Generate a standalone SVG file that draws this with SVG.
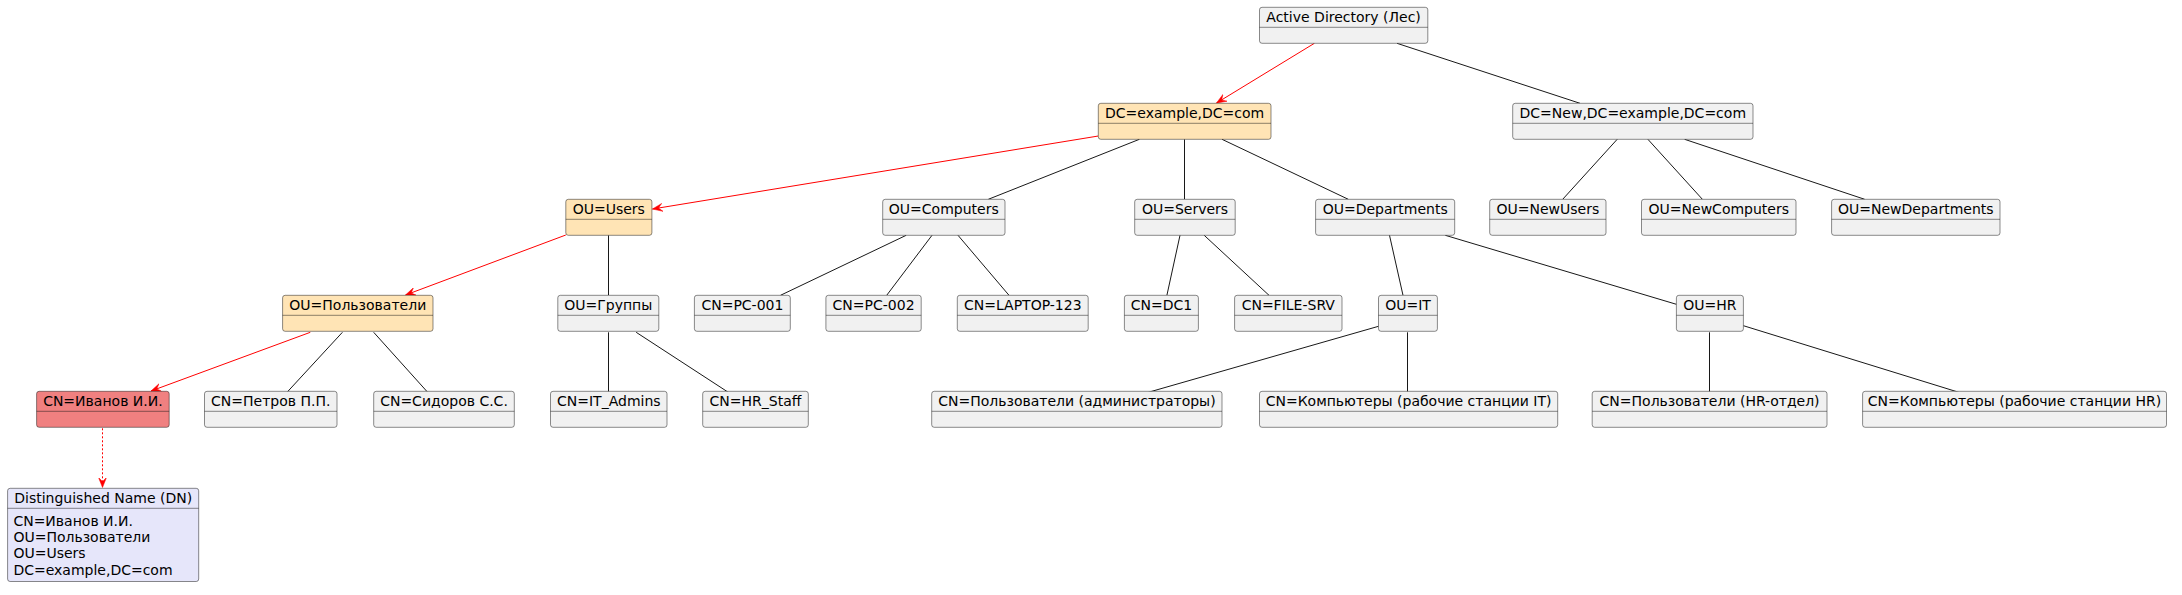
<svg xmlns="http://www.w3.org/2000/svg" width="2182" height="595" viewBox="0 0 2182 595">
<defs>
<style>
.n rect.b{fill:#F1F1F1;stroke:#181818;stroke-width:0.5}
.n line{stroke:#181818;stroke-width:0.5}
.hl rect.b{fill:#FFE4B5}
.red rect.b{fill:#F08080}
.dn rect.b{fill:#E6E6FA}
text{font-family:"DejaVu Sans",sans-serif;font-size:14px;fill:#000}
.c{text-anchor:middle}
.e{stroke:#181818;stroke-width:1;fill:none}
.r{stroke:#FF0000;stroke-width:1;fill:none}
.d{stroke:#FF0000;stroke-width:1;fill:none;stroke-dasharray:2,2}
</style>
<marker id="ah" viewBox="-10 -5 11 10" refX="0" refY="0" markerWidth="11" markerHeight="10" markerUnits="userSpaceOnUse" orient="auto">
<path d="M0,0 L-10,-4 L-6,0 L-10,4 Z" fill="#FF0000" stroke="#FF0000" stroke-width="0.5"/>
</marker>
</defs>
<rect width="2182" height="595" fill="#FFFFFF"/>

<g id="connectors">
<line class="r" x1="1314.4" y1="43.3" x2="1216.5" y2="103" marker-end="url(#ah)"/>
<line class="e" x1="1397" y1="43.3" x2="1580" y2="103.3"/>
<line class="r" x1="1098.3" y1="136" x2="652.5" y2="209" marker-end="url(#ah)"/>
<line class="e" x1="1139.4" y1="139.3" x2="988.3" y2="199.3"/>
<line class="e" x1="1184.5" y1="139.3" x2="1184.5" y2="199.3"/>
<line class="e" x1="1222" y1="139.3" x2="1348.3" y2="199.3"/>
<line class="e" x1="1617.2" y1="139.3" x2="1562.7" y2="199.3"/>
<line class="e" x1="1647.9" y1="139.3" x2="1702.4" y2="199.3"/>
<line class="e" x1="1684.6" y1="139.3" x2="1864.7" y2="199.3"/>
<line class="r" x1="565.8" y1="235" x2="405.5" y2="295" marker-end="url(#ah)"/>
<line class="e" x1="608.5" y1="235.3" x2="608.5" y2="295.3"/>
<line class="e" x1="906.2" y1="235.3" x2="780.5" y2="295.3"/>
<line class="e" x1="932" y1="235.3" x2="886.7" y2="295.3"/>
<line class="e" x1="958" y1="235.3" x2="1009" y2="295.3"/>
<line class="e" x1="1180" y1="235.3" x2="1166.9" y2="295.3"/>
<line class="e" x1="1204.2" y1="235.3" x2="1269" y2="295.3"/>
<line class="e" x1="1389.5" y1="235.3" x2="1403" y2="295.3"/>
<line class="e" x1="1445.3" y1="235.3" x2="1676.4" y2="304.3"/>
<line class="r" x1="310.3" y1="332.3" x2="151" y2="391" marker-end="url(#ah)"/>
<line class="e" x1="342.4" y1="332.3" x2="287" y2="392.3"/>
<line class="e" x1="373.7" y1="332.3" x2="427.7" y2="392.3"/>
<line class="e" x1="608.5" y1="332.3" x2="608.5" y2="392.3"/>
<line class="e" x1="636.2" y1="332.3" x2="728.3" y2="392.3"/>
<line class="e" x1="1378.5" y1="326.3" x2="1148.3" y2="392.3"/>
<line class="e" x1="1407.5" y1="332.3" x2="1407.5" y2="392.3"/>
<line class="e" x1="1709.5" y1="332.3" x2="1709.5" y2="392.3"/>
<line class="e" x1="1743.4" y1="325.7" x2="1958.8" y2="392.3"/>
<line class="d" x1="102.5" y1="428.3" x2="102.5" y2="487.5" marker-end="url(#ah)"/>
</g>

<g id="ad" class="n"><rect class="b" x="1259.5" y="7.3" width="168.3" height="36" rx="2.5"/><line x1="1259.5" y1="27.3" x2="1427.8" y2="27.3"/><text class="c" x="1343.6" y="22.2">Active Directory (Лес)</text></g>

<g id="dc" class="n hl"><rect class="b" x="1098.3" y="103.3" width="172.7" height="36" rx="2.5"/><line x1="1098.3" y1="123.3" x2="1271" y2="123.3"/><text class="c" x="1184.6" y="118.2">DC=example,DC=com</text></g>
<g id="dcnew" class="n"><rect class="b" x="1512.7" y="103.3" width="240.3" height="36" rx="2.5"/><line x1="1512.7" y1="123.3" x2="1753" y2="123.3"/><text class="c" x="1632.8" y="118.2">DC=New,DC=example,DC=com</text></g>

<g id="users" class="n hl"><rect class="b" x="565.8" y="199.3" width="86.1" height="36" rx="2.5"/><line x1="565.8" y1="219.3" x2="651.9" y2="219.3"/><text class="c" x="608.8" y="214.2">OU=Users</text></g>
<g id="computers" class="n"><rect class="b" x="882.7" y="199.3" width="122.3" height="36" rx="2.5"/><line x1="882.7" y1="219.3" x2="1005" y2="219.3"/><text class="c" x="943.8" y="214.2">OU=Computers</text></g>
<g id="servers" class="n"><rect class="b" x="1134.7" y="199.3" width="100.5" height="36" rx="2.5"/><line x1="1134.7" y1="219.3" x2="1235.2" y2="219.3"/><text class="c" x="1185" y="214.2">OU=Servers</text></g>
<g id="departments" class="n"><rect class="b" x="1315.6" y="199.3" width="139.1" height="36" rx="2.5"/><line x1="1315.6" y1="219.3" x2="1454.7" y2="219.3"/><text class="c" x="1385.2" y="214.2">OU=Departments</text></g>
<g id="newusers" class="n"><rect class="b" x="1489.7" y="199.3" width="116.3" height="36" rx="2.5"/><line x1="1489.7" y1="219.3" x2="1606" y2="219.3"/><text class="c" x="1547.9" y="214.2">OU=NewUsers</text></g>
<g id="newcomputers" class="n"><rect class="b" x="1641.5" y="199.3" width="154.5" height="36" rx="2.5"/><line x1="1641.5" y1="219.3" x2="1796" y2="219.3"/><text class="c" x="1718.8" y="214.2">OU=NewComputers</text></g>
<g id="newdepartments" class="n"><rect class="b" x="1831.6" y="199.3" width="168.4" height="36" rx="2.5"/><line x1="1831.6" y1="219.3" x2="2000" y2="219.3"/><text class="c" x="1915.8" y="214.2">OU=NewDepartments</text></g>

<g id="polz" class="n hl"><rect class="b" x="282.6" y="295.3" width="150.4" height="36" rx="2.5"/><line x1="282.6" y1="315.3" x2="433" y2="315.3"/><text class="c" x="357.8" y="310.2">OU=Пользователи</text></g>
<g id="gruppy" class="n"><rect class="b" x="557.8" y="295.3" width="101" height="36" rx="2.5"/><line x1="557.8" y1="315.3" x2="658.8" y2="315.3"/><text class="c" x="608.3" y="310.2">OU=Группы</text></g>
<g id="pc001" class="n"><rect class="b" x="694.4" y="295.3" width="95.9" height="36" rx="2.5"/><line x1="694.4" y1="315.3" x2="790.3" y2="315.3"/><text class="c" x="742.4" y="310.2">CN=PC-001</text></g>
<g id="pc002" class="n"><rect class="b" x="825.9" y="295.3" width="95.3" height="36" rx="2.5"/><line x1="825.9" y1="315.3" x2="921.2" y2="315.3"/><text class="c" x="873.6" y="310.2">CN=PC-002</text></g>
<g id="laptop" class="n"><rect class="b" x="957.3" y="295.3" width="130.9" height="36" rx="2.5"/><line x1="957.3" y1="315.3" x2="1088.2" y2="315.3"/><text class="c" x="1022.8" y="310.2">CN=LAPTOP-123</text></g>
<g id="dc1" class="n"><rect class="b" x="1124.4" y="295.3" width="74" height="36" rx="2.5"/><line x1="1124.4" y1="315.3" x2="1198.4" y2="315.3"/><text class="c" x="1161.4" y="310.2">CN=DC1</text></g>
<g id="filesrv" class="n"><rect class="b" x="1234.6" y="295.3" width="107.4" height="36" rx="2.5"/><line x1="1234.6" y1="315.3" x2="1342" y2="315.3"/><text class="c" x="1288.3" y="310.2">CN=FILE-SRV</text></g>
<g id="it" class="n"><rect class="b" x="1378.5" y="295.3" width="58.9" height="36" rx="2.5"/><line x1="1378.5" y1="315.3" x2="1437.4" y2="315.3"/><text class="c" x="1408" y="310.2">OU=IT</text></g>
<g id="hr" class="n"><rect class="b" x="1676.4" y="295.3" width="67" height="36" rx="2.5"/><line x1="1676.4" y1="315.3" x2="1743.4" y2="315.3"/><text class="c" x="1709.9" y="310.2">OU=HR</text></g>

<g id="ivanov" class="n red"><rect class="b" x="36.6" y="391.3" width="132.6" height="36" rx="2.5"/><line x1="36.6" y1="411.3" x2="169.2" y2="411.3"/><text class="c" x="102.9" y="406.2">CN=Иванов И.И.</text></g>
<g id="petrov" class="n"><rect class="b" x="204.5" y="391.3" width="132.5" height="36" rx="2.5"/><line x1="204.5" y1="411.3" x2="337" y2="411.3"/><text class="c" x="270.8" y="406.2">CN=Петров П.П.</text></g>
<g id="sidorov" class="n"><rect class="b" x="373.7" y="391.3" width="140.6" height="36" rx="2.5"/><line x1="373.7" y1="411.3" x2="514.3" y2="411.3"/><text class="c" x="444" y="406.2">CN=Сидоров С.С.</text></g>
<g id="itadmins" class="n"><rect class="b" x="550.5" y="391.3" width="116.5" height="36" rx="2.5"/><line x1="550.5" y1="411.3" x2="667" y2="411.3"/><text class="c" x="608.8" y="406.2">CN=IT_Admins</text></g>
<g id="hrstaff" class="n"><rect class="b" x="702.7" y="391.3" width="105.6" height="36" rx="2.5"/><line x1="702.7" y1="411.3" x2="808.3" y2="411.3"/><text class="c" x="755.5" y="406.2">CN=HR_Staff</text></g>
<g id="polzadm" class="n"><rect class="b" x="931.7" y="391.3" width="290.3" height="36" rx="2.5"/><line x1="931.7" y1="411.3" x2="1222" y2="411.3"/><text class="c" x="1076.9" y="406.2">CN=Пользователи (администраторы)</text></g>
<g id="kompit" class="n"><rect class="b" x="1259.5" y="391.3" width="298.2" height="36" rx="2.5"/><line x1="1259.5" y1="411.3" x2="1557.7" y2="411.3"/><text class="c" x="1408.6" y="406.2">CN=Компьютеры (рабочие станции IT)</text></g>
<g id="polzhr" class="n"><rect class="b" x="1592.2" y="391.3" width="234.8" height="36" rx="2.5"/><line x1="1592.2" y1="411.3" x2="1827" y2="411.3"/><text class="c" x="1709.6" y="406.2">CN=Пользователи (HR-отдел)</text></g>
<g id="komphr" class="n"><rect class="b" x="1862.6" y="391.3" width="303.9" height="36" rx="2.5"/><line x1="1862.6" y1="411.3" x2="2166.5" y2="411.3"/><text class="c" x="2014.5" y="406.2">CN=Компьютеры (рабочие станции HR)</text></g>

<g id="dn" class="n dn"><rect class="b" x="7.6" y="488.3" width="191.1" height="93.2" rx="2.5"/><line x1="7.6" y1="508.3" x2="198.7" y2="508.3"/><text class="c" x="103.2" y="503">Distinguished Name (DN)</text>
<text x="13.4" y="525.7">CN=Иванов И.И.</text>
<text x="13.4" y="541.8">OU=Пользователи</text>
<text x="13.4" y="557.8">OU=Users</text>
<text x="13.4" y="574.5">DC=example,DC=com</text></g>
</svg>
